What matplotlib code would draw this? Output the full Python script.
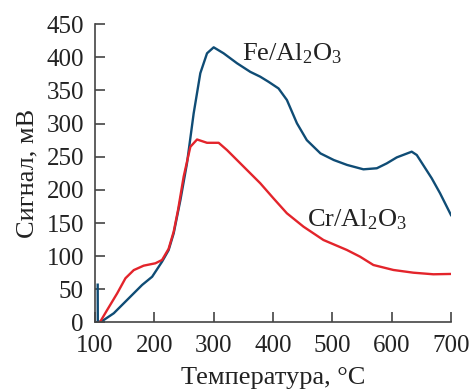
import matplotlib
matplotlib.use('Agg')
import matplotlib.pyplot as plt

plt.rcParams['font.family'] = ['Liberation Serif', 'DejaVu Serif']
plt.rcParams['mathtext.fontset'] = 'custom'
plt.rcParams['mathtext.rm'] = 'Liberation Serif'
plt.rcParams['mathtext.default'] = 'regular'

# Fe/Al2O3 curve (temperature, signal)
fe_t = [104.5, 104.7, 114.8, 131.6, 148.5, 165.3, 179.4, 196.3, 213, 224, 232.6, 239.4,
        244, 255, 266.3, 277.5, 288.8, 300, 316.7, 339.3, 361.7, 378.5, 392.5, 409.3,
        423.4, 440.3, 457, 480, 502.5, 524.9, 552.4, 575, 591.8, 608.6, 633.8, 642.3,
        667.5, 681.5, 700]
fe_s = [57, 0, 3.8, 13.9, 29, 44, 56.6, 69, 91.7, 109, 134.5, 164.7,
        185, 240, 315.5, 376, 406, 415, 406, 391, 378, 370.7, 363, 353,
        335.6, 300.5, 275, 255, 245, 237.6, 231, 232.6, 240, 249, 257.6, 252.6,
        217.5, 195, 162]

# Cr/Al2O3 curve
cr_t = [108, 120.5, 137.4, 151.3, 165.3, 182, 201.8, 213, 224, 232.6, 240, 249.4,
        260.7, 272, 288.8, 308.4, 322.5, 344.9, 367.3, 378.5, 401, 423.4, 451.4,
        485, 524.4, 546.8, 569.2, 602.9, 636.5, 670.2, 700]
cr_s = [0, 18.9, 44, 66.7, 79, 85.7, 89.3, 94.3, 111, 137, 170, 220,
        265, 276, 271, 271, 260, 240, 220, 210, 187, 164.7, 144.5,
        124.4, 109.4, 99.2, 86.7, 79.2, 75.1, 72.7, 73.2]

fig = plt.figure(figsize=(4.72, 3.89), dpi=100)
ax = fig.add_axes([0.2013, 0.171, 0.7542, 0.767])

ax.plot(fe_t, fe_s, color='#0f4c75', lw=1.7)
ax.plot(cr_t, cr_s, color='#e3242b', lw=1.7)

ax.set_xlim(100, 700)
ax.set_ylim(0, 450)
ax.set_xticks(range(100, 701, 100))
ax.set_yticks(range(0, 451, 50))

for s in ['top', 'right']:
    ax.spines[s].set_visible(False)
for s in ['left', 'bottom']:
    ax.spines[s].set_color('#444444')
    ax.spines[s].set_linewidth(1.2)
ax.tick_params(direction='in', length=7, width=1.2, color='#444444',
               labelsize=18, labelcolor='#222222')
ax.tick_params(axis='y', pad=8)
ax.tick_params(axis='x', pad=9)

ax.set_xlabel('Температура, °C', fontsize=19, color='#222222')
ax.set_ylabel('Сигнал, мВ', fontsize=19, color='#222222')
ax.xaxis.set_label_coords(0.5, -0.149)
ax.yaxis.set_label_coords(-0.16, 0.5)

ax.text(347.7, 395, 'Fe/Al$_2$O$_3$', fontsize=19, color='#222222', va='baseline')
ax.text(457, 144.5, 'Cr/Al$_2$O$_3$', fontsize=19, color='#222222', va='baseline')

fig.savefig('out.png', dpi=100)
